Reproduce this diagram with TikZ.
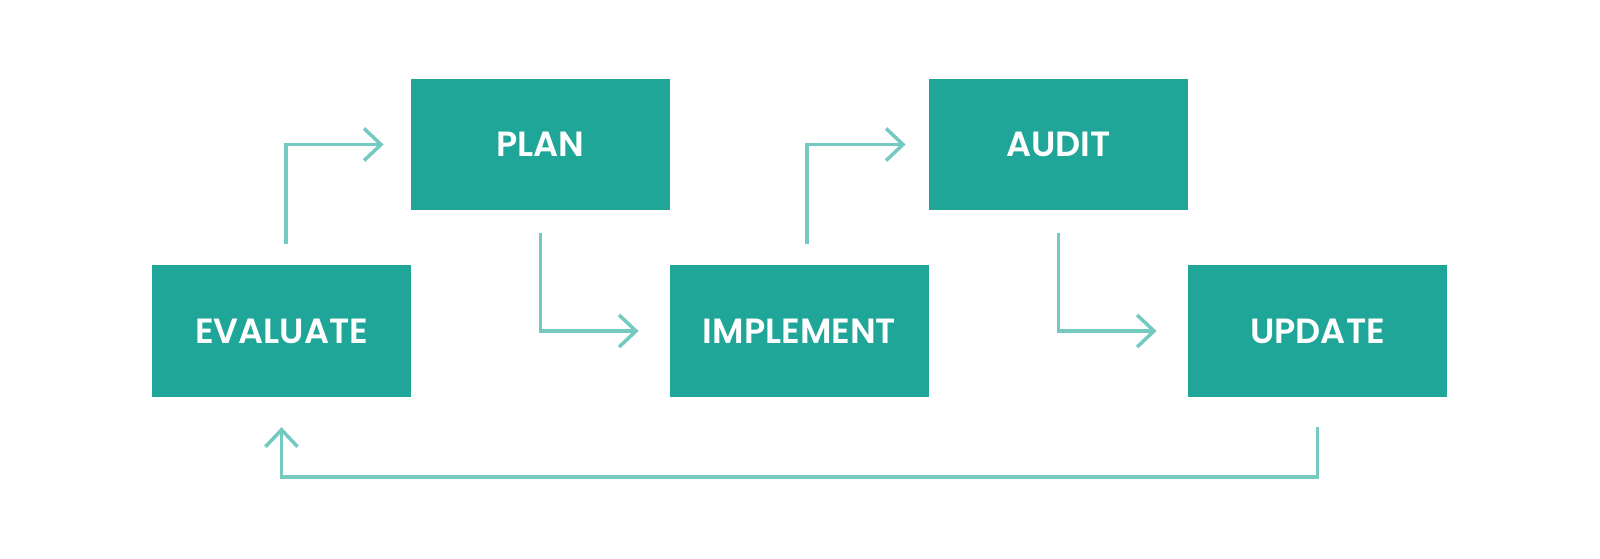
\documentclass[tikz,border=0pt]{standalone}
\usepackage{fontspec}
\setmainfont{Poppins}[BoldFont=* SemiBold]
\usetikzlibrary{arrows.meta}
\definecolor{boxteal}{HTML}{1FA698}
\definecolor{arrowteal}{HTML}{74CAC0}
\tikzset{
  stepbox/.style={fill=boxteal, draw=none, minimum width=129.5pt, minimum height=65.75pt,
    inner sep=0pt, text=white, font=\fontsize{17.5pt}{20pt}\selectfont\bfseries},
  conn/.style={draw=arrowteal, line width=1.75pt, line join=miter,
    -{Straight Barb[length=8.5pt, width=16pt, line join=miter]}}
}
\begin{document}
\begin{tikzpicture}[x=0.5pt, y=-0.5pt]
\useasboundingbox (0,0) rectangle (1600,558);
\node[stepbox] (plan)   at (540.5,144.5)  {PLAN};
\node[stepbox] (audit)  at (1058.5,144.5) {AUDIT};
\node[stepbox] (eval)   at (281.5,331)    {EVALUATE};
\node[stepbox] (impl)   at (799.5,331)    {IMPLEMENT};
\node[stepbox] (update) at (1317.5,331)   {UPDATE};
\draw[conn, shorten <=10.5pt, shorten >=13.5pt] ([xshift=2.25pt]eval.north) |- (plan.west);
\draw[conn, shorten <=11pt, shorten >=15.5pt] (plan.south) |- (impl.west);
\draw[conn, shorten <=10.5pt, shorten >=11.5pt] ([xshift=3.75pt]impl.north) |- (audit.west);
\draw[conn, shorten <=11pt, shorten >=15.5pt] (audit.south) |- (update.west);
\draw[conn, shorten <=15pt, shorten >=15pt] (update.south) -- ++(0,80) -| (eval.south);
\end{tikzpicture}
\end{document}
